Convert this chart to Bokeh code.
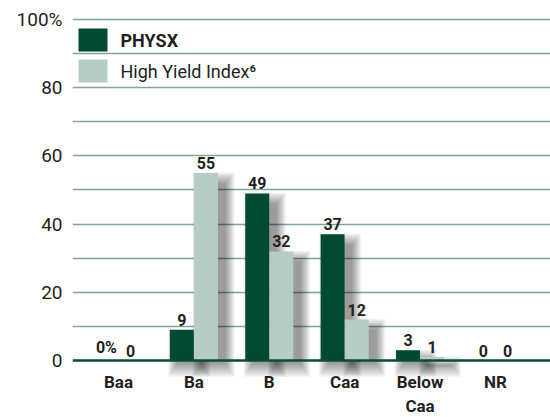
from bokeh.plotting import figure
from bokeh.models import (ColumnDataSource, Range1d, FixedTicker, Span,
                          CDSView, IndexFilter)
from bokeh.core.properties import value
from bokeh.transform import dodge
from bokeh.embed import file_html
from bokeh.resources import INLINE

# ---- data ----
categories = ["Baa", "Ba", "B", "Caa", "Below\nCaa", "NR"]
physx = [0, 9, 49, 37, 3, 0]
high_yield = [0, 55, 32, 12, 1, 0]
physx_labels = ["0%", "9", "49", "37", "3", "0"]
hy_labels = ["0", "55", "32", "12", "1", "0"]
series_names = ["PHYSX", "High Yield Index\u2076"]
y_ticks = [0, 20, 40, 60, 80, 100]
y_tick_labels = {100: "100%"}
grid_ticks = [10, 20, 30, 40, 50, 60, 70, 80, 90, 100]

DARK = "#004a32"
LIGHT = "#b6cdc5"
GRID = "#7fa498"
TXT = "#231f20"
FONT = "Roboto"

# layout (pixels)
W, H = 550, 417
FL, FT, FB = 72, 12, 1           # frame left, top border, bottom border
X0, X1 = -0.61, 5.73
Y0, Y1 = -16.42, 102.05
ppx = (W - FL) / (X1 - X0)
ppy = (H - FT - FB) / (Y1 - Y0)


def px2x(px):
    return X0 + (px - FL) / ppx


def py2y(py):
    return Y1 - (py - FT) / ppy


idx = list(range(len(categories)))
src = ColumnDataSource(dict(x=idx, cat=categories, physx=physx, hy=high_yield,
                            physx_lbl=physx_labels, hy_lbl=hy_labels))

p = figure(width=W, height=H, output_backend="svg", toolbar_location=None,
           x_range=Range1d(X0, X1), y_range=Range1d(Y0, Y1),
           x_axis_location=None, min_border_left=FL, min_border_right=0,
           min_border_top=FT, min_border_bottom=FB)
p.outline_line_color = None
p.xgrid.visible = False
p.ygrid.ticker = FixedTicker(ticks=grid_ticks)
p.ygrid.grid_line_color = GRID
p.ygrid.grid_line_width = 1.4

ax = p.yaxis[0]
ax.ticker = FixedTicker(ticks=y_ticks)
ax.major_label_overrides = y_tick_labels
ax.axis_line_color = None
ax.major_tick_line_color = None
ax.minor_tick_line_color = None
ax.major_tick_out = 0
ax.major_tick_in = 0
ax.major_label_standoff = 10
ax.major_label_text_font = FONT
ax.major_label_text_font_size = "19px"
ax.major_label_text_color = TXT

BW = 0.318
OFF = 0.16

# soft drop shadows (stacked translucent layers)
nz_dark = [i for i, v in enumerate(physx) if v > 0]
nz_light = [i for i, v in enumerate(high_yield) if v > 0]
for off, field, nz in [(-OFF, "physx", nz_dark), (OFF, "hy", nz_light)]:
    view = CDSView(filter=IndexFilter(nz))
    for k in range(9):
        p.vbar(x=dodge("x", off + 0.1, range=p.x_range), width=BW + 0.03 * k,
               top=dodge(field, -3.0 + 0.4 * k), bottom=-0.8 - 0.5 * k,
               source=src, view=view, fill_color="black", fill_alpha=0.05,
               line_color=None)

p.vbar(x=dodge("x", -OFF, range=p.x_range), width=BW, top="physx",
       bottom=0, source=src, fill_color=DARK, line_color=None)
p.vbar(x=dodge("x", OFF, range=p.x_range), width=BW, top="hy",
       bottom=0, source=src, fill_color=LIGHT, line_color=None)

p.add_layout(Span(location=0, dimension="width", line_color="#0b4b36",
                  line_width=2.5))

# value labels
for off, field, lbl in [(-OFF, "physx", "physx_lbl"), (OFF, "hy", "hy_lbl")]:
    p.text(x=dodge("x", off, range=p.x_range), y=field, text=lbl, source=src,
           text_align="center", text_baseline="bottom", y_offset=-4,
           text_font=value(FONT), text_font_style="bold",
           text_font_size="16px", text_color=TXT)

# category labels
p.text(x="x", y=-3.5, text="cat", source=src, text_align="center",
       text_baseline="top", text_font=value(FONT), text_font_style="bold",
       text_font_size="17px", text_color=TXT, text_line_height=1.2)

# legend (drawn manually: swatches + labels)
sw_top = [28, 59]
for i, (name, col, style) in enumerate(zip(series_names, [DARK, LIGHT],
                                           ["bold", "normal"])):
    t = sw_top[i]
    p.quad(left=[px2x(78)], right=[px2x(107)], top=[py2y(t)],
           bottom=[py2y(t + 23)], fill_color=col, line_color=None)
    p.text(x=[px2x(120)], y=[py2y(t + 11.5)], text=[name],
           text_baseline="middle", text_align="left", text_font=value(FONT),
           text_font_style=style, text_font_size="18px", text_color=TXT)

open("out.html", "w").write(file_html(p, INLINE))
